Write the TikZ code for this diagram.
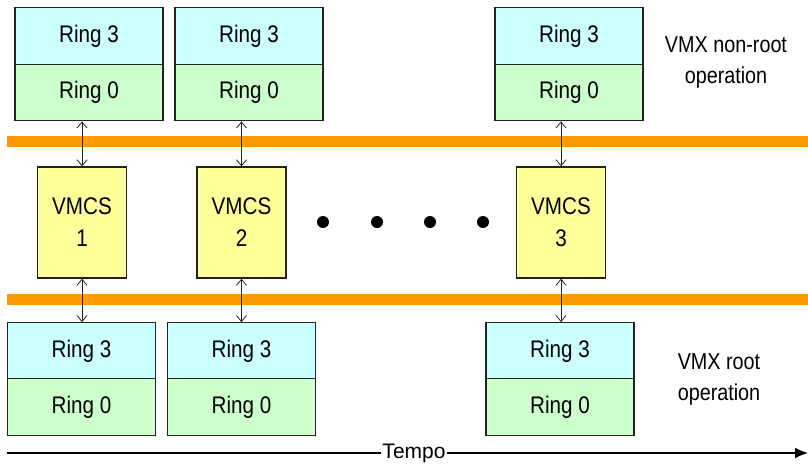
\documentclass[tikz,border=0pt]{standalone}
\usepackage{fontspec}
\setmainfont{Liberation Sans}[FakeStretch=0.86]
\newfontfamily\tempofont{Liberation Sans}
\usetikzlibrary{arrows.meta}
\definecolor{ringcyan}{HTML}{CCFFFF}
\definecolor{ringgreen}{HTML}{CCFFCC}
\definecolor{vmcsyellow}{HTML}{FFFF99}
\definecolor{bandorange}{HTML}{FF9900}
\definecolor{edge}{HTML}{222222}
\tikzset{
  ringbox/.style={draw=edge, line width=1.3pt, minimum width=148pt, minimum height=56.5pt,
    inner sep=0pt, font=\fontsize{24}{28}\selectfont},
  r3/.style={ringbox, fill=ringcyan},
  r0/.style={ringbox, fill=ringgreen},
  vmcsbox/.style={draw=edge, line width=1.3pt, fill=vmcsyellow, minimum width=89pt,
    minimum height=111pt, inner sep=0pt, align=center, font=\fontsize{24}{32}\selectfont},
  band/.style={bandorange, line width=11pt},
  link/.style={{Straight Barb[length=6pt,width=10pt]}-{Straight Barb[length=6pt,width=10pt]}, line width=0.8pt, draw=edge},
  dotmark/.style={circle, fill=black, minimum size=12pt, inner sep=0pt},
  sidetext/.style={align=center, font=\fontsize{23}{31}\selectfont}
}
\begin{document}
\begin{tikzpicture}[x=1pt,y=-1pt]
\useasboundingbox (0,0) rectangle (808,464);
% orange bands
\coordinate (bandTl) at (7,141.5);
\coordinate (bandTr) at (808,141.5);
\coordinate (bandBl) at (7,299.5);
\coordinate (bandBr) at (808,299.5);
\draw[band] (bandTl) -- (bandTr);
\draw[band] (bandBl) -- (bandBr);
% top boxes
\node[r3] (t1r3) at (89,36) {Ring 3};
\node[r0] (t1r0) at (89,92.5) {Ring 0};
\node[r3] (t2r3) at (249,36) {Ring 3};
\node[r0] (t2r0) at (249,92.5) {Ring 0};
\node[r3] (t3r3) at (569,36) {Ring 3};
\node[r0] (t3r0) at (569,92.5) {Ring 0};
% VMCS boxes
\node[vmcsbox] (v1) at (82,222.5) {VMCS\\1};
\node[vmcsbox] (v2) at (241.5,222.5) {VMCS\\2};
\node[vmcsbox] (v3) at (561,222.5) {VMCS\\3};
% bottom boxes
\node[r3] (b1r3) at (81.5,351) {Ring 3};
\node[r0] (b1r0) at (81.5,407) {Ring 0};
\node[r3] (b2r3) at (241.5,351) {Ring 3};
\node[r0] (b2r0) at (241.5,407) {Ring 0};
\node[r3] (b3r3) at (560,351) {Ring 3};
\node[r0] (b3r0) at (560,407) {Ring 0};
% links
\draw[link] (v1.north |- t1r0.south) -- (v1.north);
\draw[link] (v2.north |- t2r0.south) -- (v2.north);
\draw[link] (v3.north |- t3r0.south) -- (v3.north);
\draw[link] (v1.south) -- (v1.south |- b1r3.north);
\draw[link] (v2.south) -- (v2.south |- b2r3.north);
\draw[link] (v3.south) -- (v3.south |- b3r3.north);
% dots
\node[dotmark] (d1) at (323,222) {};
\node[dotmark] (d2) at (377,222) {};
\node[dotmark] (d3) at (430,222) {};
\node[dotmark] (d4) at (483,222) {};
% side texts
\node[sidetext] (nonroot) at (726,62) {VMX non-root\\operation};
\node[sidetext] (root) at (719,379) {VMX root\\operation};
% timeline
\coordinate (tl) at (7,453);
\coordinate (tr) at (808,453);
\draw[line width=1.8pt, -{Latex[length=13pt,width=11pt]}] (tl) -- (tr);
\node[fill=white, inner sep=1pt, anchor=base, font=\tempofont\fontsize{21}{24}\selectfont] (tempo) at (414,458) {Tempo};
\end{tikzpicture}
\end{document}
